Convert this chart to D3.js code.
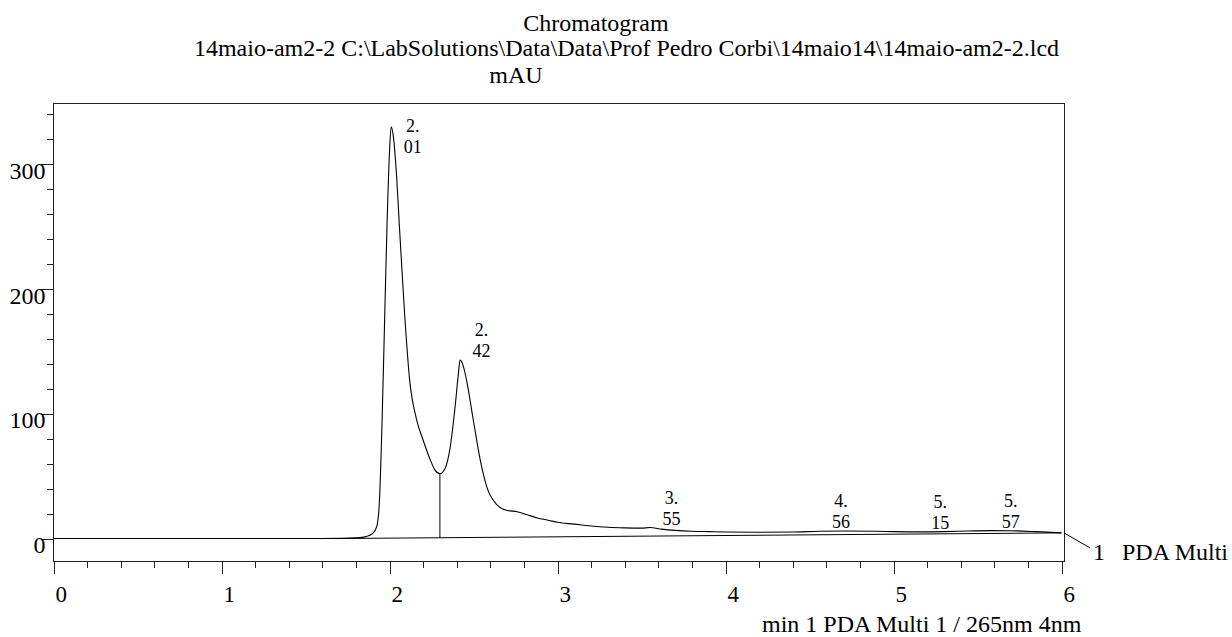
<!DOCTYPE html>
<html>
<head>
<meta charset="utf-8">
<script src="https://cdn.jsdelivr.net/npm/d3@7"></script>
<style>
  html, body { margin: 0; padding: 0; background: #fff; }
  svg { display: block; }
  text { font-family: "Liberation Serif", "Times New Roman", serif; fill: #000; }
</style>
</head>
<body>
<svg id="chart" width="1232" height="637"></svg>
<script>
// PDA channel 1 trace at 265 nm: retention time (min) vs absorbance (mAU)
const timeMin = [
  0, 1.60, 1.72, 1.80, 1.86, 1.90, 1.925, 1.94, 1.955, 1.97, 1.985, 2.00, 2.01,
  2.025, 2.04, 2.06, 2.09, 2.12, 2.16, 2.20, 2.24, 2.27, 2.30, 2.33, 2.36, 2.39,
  2.41, 2.42, 2.435, 2.46, 2.50, 2.54, 2.58, 2.64, 2.70, 2.76, 2.82, 2.88, 2.95,
  3.00, 3.10, 3.20, 3.30, 3.40, 3.50, 3.55, 3.62, 3.70, 3.80, 3.90, 4.00, 4.20,
  4.40, 4.56, 4.70, 4.90, 5.00, 5.15, 5.30, 5.45, 5.57, 5.70, 5.85, 6.00
];
const signalMAU = [
  0, 0, 0.1, 0.5, 1.5, 4, 10, 30, 90, 170, 250, 310, 330,
  320, 295, 248, 180, 127, 96, 79, 64, 55, 52, 56, 72, 105,
  132, 143, 140, 126, 94, 63, 41, 27, 22.5, 21.5, 19, 16.5, 14.5,
  13, 11.5, 10, 9, 8.5, 8.3, 8.8, 7.5, 6.5, 5.8, 5.5, 5.2, 5.0,
  5.2, 5.8, 6.0, 5.8, 5.5, 5.3, 5.5, 6.0, 6.3, 6.2, 5.5, 4.5
];

// integration baseline drawn under the peak cluster
const baselineTime = [1.72, 6.0];
const baselineMAU = [0, 4.5];

// detected peaks (retention time, min) and the perpendicular-drop split point
const peakRT = [2.01, 2.42, 3.55, 4.56, 5.15, 5.57];
const dropRT = [2.30];

// axis ticks
const xTicksMajor = [0, 1, 2, 3, 4, 5, 6];
const xTicksMinor = d3.range(0, 30).map(i => i * 0.2).filter(v => Math.abs(v - Math.round(v)) > 1e-6);
const yTicksMajor = [0, 100, 200, 300];
const yTicksMinor = d3.range(0, 18).map(i => i * 20).filter(v => v % 100 !== 0);

// header and axis texts
const titleText = "Chromatogram";
const fileText = "14maio-am2-2 C:\\LabSolutions\\Data\\Data\\Prof Pedro Corbi\\14maio14\\14maio-am2-2.lcd";
const yUnitText = "mAU";
const xUnitText = "min 1 PDA Multi 1 / 265nm 4nm";
const traceNo = "1";
const traceName = "PDA Multi";

// ---- layout ----
const frame = { left: 53.5, right: 1064, top: 103, bottom: 561.5 };

const svg = d3.select("#chart");
svg.append("rect").attr("width", 1232).attr("height", 637).attr("fill", "#fff");

const x = d3.scaleLinear().domain([0, 6]).range([53.5, 1061.5]);
const y = d3.scaleLinear().domain([0, 300]).range([538.5, 164.3]);

// linear lookup of the trace at a given time
const bis = d3.bisector(d => d).left;
function signalAt(t) {
  const i = Math.min(Math.max(bis(timeMin, t), 1), timeMin.length - 1);
  const t0 = timeMin[i - 1], t1 = timeMin[i];
  const k = (t - t0) / (t1 - t0);
  return signalMAU[i - 1] + k * (signalMAU[i] - signalMAU[i - 1]);
}
function baselineAt(t) {
  const k = (t - baselineTime[0]) / (baselineTime[1] - baselineTime[0]);
  return baselineMAU[0] + k * (baselineMAU[1] - baselineMAU[0]);
}

// ---- titles ----
svg.append("text").attr("x", 596).attr("y", 31).attr("text-anchor", "middle")
  .attr("font-size", 24).text(titleText);
svg.append("text").attr("x", 626.5).attr("y", 56).attr("text-anchor", "middle")
  .attr("font-size", 24).text(fileText);
svg.append("text").attr("x", 516).attr("y", 83).attr("text-anchor", "middle")
  .attr("font-size", 24).text(yUnitText);

// ---- frame ----
svg.append("rect")
  .attr("x", frame.left).attr("y", frame.top)
  .attr("width", frame.right - frame.left).attr("height", frame.bottom - frame.top)
  .attr("fill", "none").attr("stroke", "#222").attr("stroke-width", 1)
  .attr("shape-rendering", "crispEdges");

// ---- y axis ----
const gy = svg.append("g").attr("transform", `translate(${frame.left},0)`);
gy.append("g").call(d3.axisLeft(y).tickValues(yTicksMinor).tickSize(7).tickFormat(""));
gy.append("g").call(d3.axisLeft(y).tickValues(yTicksMajor).tickSize(13).tickFormat(d3.format("d")));
gy.selectAll(".domain").remove();
gy.selectAll("line").attr("stroke", "#222").attr("shape-rendering", "crispEdges");
gy.selectAll("text")
  .attr("x", -8).attr("dy", null).attr("y", 14)
  .attr("text-anchor", "end")
  .attr("font-size", 24)
  .attr("font-family", null);

// ---- x axis ----
const gx = svg.append("g").attr("transform", `translate(0,${frame.bottom})`);
gx.append("g").call(d3.axisBottom(x).tickValues(xTicksMinor).tickSize(6).tickFormat(""));
gx.append("g").call(d3.axisBottom(x).tickValues(xTicksMajor).tickSize(12.5).tickFormat(d3.format("d")));
gx.selectAll(".domain").remove();
gx.selectAll("line").attr("stroke", "#222").attr("shape-rendering", "crispEdges");
gx.selectAll("text")
  .attr("x", 1.5).attr("dy", null).attr("y", 40.5)
  .attr("text-anchor", "start")
  .attr("font-size", 23)
  .attr("font-family", null);

svg.append("text").attr("x", 762).attr("y", 632).attr("font-size", 24).text(xUnitText);

// ---- trace ----
const line = d3.line().x(d => x(d[0])).y(d => y(d[1])).curve(d3.curveMonotoneX);
const tracePts = d3.zip(timeMin, signalMAU);
svg.append("path").datum(tracePts)
  .attr("d", line).attr("fill", "none").attr("stroke", "#000").attr("stroke-width", 1.1);

// integration baseline
svg.append("path").datum(d3.zip(baselineTime, baselineMAU))
  .attr("d", d3.line().x(d => x(d[0])).y(d => y(d[1])))
  .attr("fill", "none").attr("stroke", "#000").attr("stroke-width", 1);

// perpendicular drop between the two main peaks
svg.selectAll(".drop").data(dropRT).join("line")
  .attr("class", "drop")
  .attr("x1", d => x(d)).attr("x2", d => x(d))
  .attr("y1", d => y(signalAt(d))).attr("y2", d => y(baselineAt(d)))
  .attr("stroke", "#000").attr("stroke-width", 1);

// ---- peak labels (retention time split over two lines) ----
const fmt = d3.format(".2f");
const lbl = svg.selectAll(".peak").data(peakRT).join("text")
  .attr("class", "peak")
  .attr("text-anchor", "middle")
  .attr("font-size", 18);
lbl.each(function (d) {
  const parts = fmt(d).split(".");
  const cx = x(d) + 21.5;
  const b2 = Math.max(y(signalAt(d)) - 3, frame.top + 50);
  const t = d3.select(this);
  t.append("tspan").attr("x", cx).attr("y", b2 - 21).text(parts[0] + ".");
  t.append("tspan").attr("x", cx).attr("y", b2).text(parts[1]);
});

// ---- trace name leader ----
const endY = y(signalMAU[signalMAU.length - 1]);
svg.append("line")
  .attr("x1", frame.right).attr("y1", endY)
  .attr("x2", frame.right + 26).attr("y2", endY + 15)
  .attr("stroke", "#000").attr("stroke-width", 1);
svg.append("text").attr("x", 1093).attr("y", 560).attr("font-size", 24).text(traceNo);
svg.append("text").attr("x", 1122).attr("y", 560).attr("font-size", 24).text(traceName);
</script>
</body>
</html>
